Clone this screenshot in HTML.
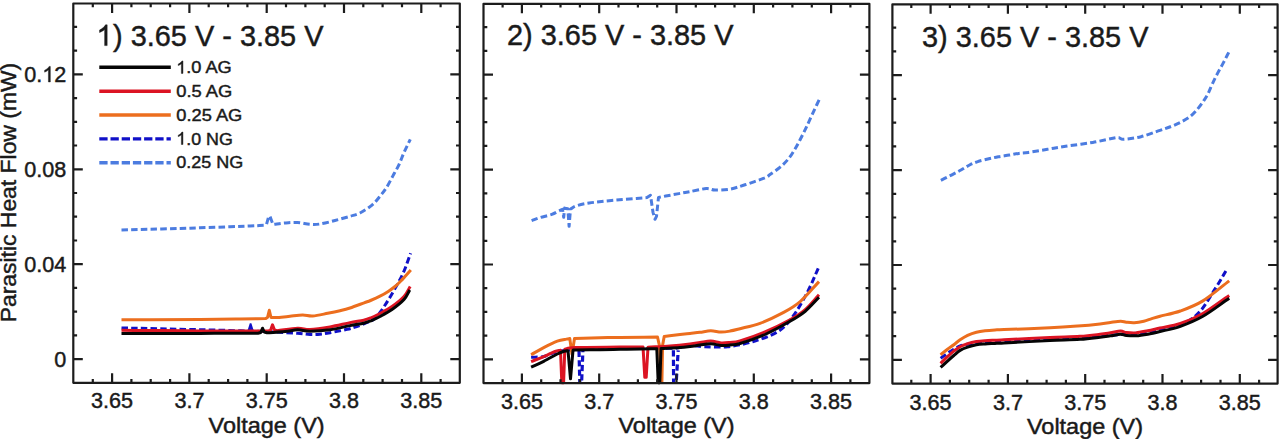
<!DOCTYPE html>
<html><head><meta charset="utf-8"><title>Parasitic Heat Flow</title>
<style>html,body{margin:0;padding:0;background:#fff;width:1280px;height:439px;overflow:hidden}svg{display:block}#w{width:1280px;height:439px}</style>
</head><body>
<div id="w"><svg width="1280" height="439" viewBox="0 0 1280 439">
<rect width="1280" height="439" fill="#fff"/>
<g transform="translate(0 0.00)">
<path d="M121.50 230.00 C131.00 229.77 140.25 229.55 150.00 229.30 C159.75 229.05 171.67 228.75 180.00 228.50 C188.33 228.25 191.67 228.08 200.00 227.80 C208.33 227.52 221.67 227.10 230.00 226.80 C238.33 226.50 244.33 226.25 250.00 226.00 C255.67 225.75 259.33 225.53 264.00 225.30 L266.50 224.50 L268.80 216.20 L270.00 216.50 L273.00 224.50 C277.00 224.00 280.92 223.33 285.00 223.00 C289.08 222.67 293.33 222.28 297.50 222.50 C301.67 222.72 306.25 224.05 310.00 224.30 C313.75 224.55 315.83 224.63 320.00 224.00 C324.17 223.37 330.00 221.78 335.00 220.50 C340.00 219.22 345.83 217.55 350.00 216.30 C354.17 215.05 356.28 214.92 360.00 213.00 C363.72 211.08 368.88 207.70 372.30 204.80 C375.72 201.90 378.12 198.50 380.50 195.60 C382.88 192.70 384.55 190.65 386.60 187.40 C388.65 184.15 390.75 179.87 392.80 176.10 C394.85 172.33 397.03 168.73 398.90 164.80 C400.77 160.87 402.10 156.75 404.00 152.50 C405.90 148.25 408.20 143.70 410.30 139.30" fill="none" stroke="#4c7ce0" stroke-width="3.0" stroke-linejoin="round" stroke-dasharray="6.5 3.2"/>
<path d="M121.50 327.90 C134.33 328.20 146.92 328.50 160.00 328.80 C173.08 329.10 186.50 329.37 200.00 329.70 C213.50 330.03 231.67 330.53 241.00 330.80 C250.33 331.07 251.17 331.13 256.00 331.30 C260.83 331.47 263.07 331.47 270.00 331.80 C276.93 332.13 290.93 332.85 297.60 333.30 C304.27 333.75 306.27 334.35 310.00 334.50 C313.73 334.65 316.67 334.50 320.00 334.20 C323.33 333.90 325.48 333.52 330.00 332.70 C334.52 331.88 342.63 330.32 347.10 329.30 C351.57 328.28 353.47 327.73 356.80 326.60 C360.13 325.47 364.23 323.77 367.10 322.50 C369.97 321.23 371.85 320.67 374.00 319.00 C376.15 317.33 378.15 314.83 380.00 312.50 C381.85 310.17 383.33 307.72 385.10 305.00 C386.87 302.28 388.72 299.37 390.60 296.20 C392.48 293.03 394.58 289.27 396.40 286.00 C398.22 282.73 399.97 279.73 401.50 276.60 C403.03 273.47 404.08 271.08 405.60 267.20 C407.12 263.32 408.93 257.93 410.60 253.30" fill="none" stroke="#1010c8" stroke-width="3.0" stroke-linejoin="round" stroke-dasharray="6.5 3.2"/>
<path d="M247.2 331.5 L249.8 323.2 L251.4 323.2 L254.0 331.5 Z" fill="#1010c8"/>
<path d="M121.50 319.80 C147.67 319.67 180.25 319.53 200.00 319.40 C219.75 319.27 229.08 319.13 240.00 319.00 C250.92 318.87 257.00 318.73 265.50 318.60 L267.50 317.50 L269.30 310.30 L271.00 317.50 L277.60 317.60 C281.73 317.13 285.82 316.63 290.00 316.20 C294.18 315.77 298.92 315.03 302.70 315.00 C306.48 314.97 308.53 316.28 312.70 316.00 C316.87 315.72 323.15 314.18 327.70 313.30 C332.25 312.42 336.28 311.58 340.00 310.70 C343.72 309.82 345.97 309.32 350.00 308.00 C354.03 306.68 360.78 304.05 364.20 302.80 C367.62 301.55 367.87 301.60 370.50 300.50 C373.13 299.40 377.05 297.72 380.00 296.20 C382.95 294.68 385.70 293.02 388.20 291.40 C390.70 289.78 392.90 288.23 395.00 286.50 C397.10 284.77 399.13 282.67 400.80 281.00 C402.47 279.33 403.33 278.33 405.00 276.50 C406.67 274.67 408.87 272.17 410.80 270.00" fill="none" stroke="#ec6e1e" stroke-width="3.0" stroke-linejoin="round"/>
<path d="M121.50 330.30 C134.33 330.40 146.92 330.50 160.00 330.60 C173.08 330.70 186.67 330.83 200.00 330.90 C213.33 330.97 228.67 330.98 240.00 331.00 C251.33 331.02 258.67 331.00 268.00 331.00 L270.50 330.50 L272.50 324.80 L274.50 330.00 L277.00 330.80 C283.87 329.93 292.10 328.42 297.60 328.20 C303.10 327.98 304.60 329.72 310.00 329.50 C315.40 329.28 323.33 328.05 330.00 326.90 C336.67 325.75 344.38 323.72 350.00 322.60 C355.62 321.48 360.20 321.00 363.70 320.20 C367.20 319.40 368.28 318.92 371.00 317.80 C373.72 316.68 376.50 315.38 380.00 313.50 C383.50 311.62 388.00 309.33 392.00 306.50 C396.00 303.67 400.97 299.83 404.00 296.50 C407.03 293.17 408.13 289.83 410.20 286.50" fill="none" stroke="#dc1423" stroke-width="3.0" stroke-linejoin="round"/>
<path d="M121.50 333.40 C134.33 333.40 146.92 333.40 160.00 333.40 C173.08 333.40 186.67 333.42 200.00 333.40 C213.33 333.38 230.33 333.33 240.00 333.30 C249.67 333.27 252.00 333.23 258.00 333.20 L260.80 332.50 L262.50 328.20 L264.20 332.00 L267.00 332.80 C273.00 332.40 279.90 332.10 285.00 331.60 C290.10 331.10 293.43 329.87 297.60 329.80 C301.77 329.73 304.60 331.20 310.00 331.20 C315.40 331.20 323.33 330.73 330.00 329.80 C336.67 328.87 344.38 326.70 350.00 325.60 C355.62 324.50 360.20 324.00 363.70 323.20 C367.20 322.40 368.28 321.92 371.00 320.80 C373.72 319.68 376.50 318.38 380.00 316.50 C383.50 314.62 388.00 312.33 392.00 309.50 C396.00 306.67 401.03 302.75 404.00 299.50 C406.97 296.25 407.87 293.17 409.80 290.00" fill="none" stroke="#050505" stroke-width="3.0" stroke-linejoin="round"/>
</g>
<g transform="translate(0 0.30)">
<path d="M531.60 220.30 C534.40 219.30 536.63 218.33 540.00 217.30 C543.37 216.27 548.77 215.15 551.80 214.10 C554.83 213.05 556.42 211.85 558.20 211.00 C559.98 210.15 561.07 209.67 562.50 209.00 L563.70 217.00 L564.60 207.80 L567.80 208.50 L569.10 226.00 L570.50 208.70 C572.47 207.63 573.28 206.50 576.40 205.50 C579.52 204.50 582.67 203.65 589.20 202.70 C595.73 201.75 605.97 200.70 615.60 199.80 C625.23 198.90 636.53 198.13 647.00 197.30 L650.50 195.00 L653.00 212.00 L655.00 219.00 L656.50 216.00 L658.50 197.10 C665.33 195.83 673.75 194.27 679.00 193.30 C684.25 192.33 685.45 192.13 690.00 191.30 C694.55 190.47 702.13 188.55 706.30 188.30 C710.47 188.05 711.05 189.72 715.00 189.80 C718.95 189.88 725.00 189.68 730.00 188.80 C735.00 187.92 739.17 186.38 745.00 184.50 C750.83 182.62 760.83 179.22 765.00 177.50 C769.17 175.78 767.47 175.98 770.00 174.20 C772.53 172.42 777.13 169.40 780.20 166.80 C783.27 164.20 786.00 161.50 788.40 158.60 C790.80 155.70 792.72 152.47 794.60 149.40 C796.48 146.33 797.82 143.78 799.70 140.20 C801.58 136.62 803.85 132.17 805.90 127.90 C807.95 123.63 809.77 119.38 812.00 114.60 C814.23 109.82 816.87 104.33 819.30 99.20" fill="none" stroke="#4c7ce0" stroke-width="3.0" stroke-linejoin="round" stroke-dasharray="6.5 3.2"/>
<path d="M531.10 357.00 C535.00 356.80 539.65 356.93 542.80 356.40 C545.95 355.87 547.58 354.60 550.00 353.80 C552.42 353.00 554.97 352.18 557.30 351.60 C559.63 351.02 560.58 350.73 564.00 350.30 C567.42 349.87 574.47 349.27 577.80 349.00 C581.13 348.73 576.97 348.82 584.00 348.70 C591.03 348.58 605.70 348.43 620.00 348.30 C634.30 348.17 660.13 348.03 669.80 347.90 C679.47 347.77 674.63 347.93 678.00 347.50 C681.37 347.07 685.50 345.48 690.00 345.30 C694.50 345.12 698.73 346.22 705.00 346.40 C711.27 346.58 719.67 347.23 727.60 346.40 C735.53 345.57 744.25 343.90 752.60 341.40 C760.95 338.90 771.02 335.57 777.70 331.40 C784.38 327.23 787.70 323.08 792.70 316.40 C797.70 309.72 803.32 299.65 807.70 291.30 C812.08 282.95 815.23 274.63 819.00 266.30" fill="none" stroke="#1010c8" stroke-width="3.0" stroke-linejoin="round" stroke-dasharray="6.5 3.2"/>
<path d="M579.0 350.5 L579.8 382.5" stroke="#1010c8" stroke-width="3.2" stroke-dasharray="6.2 3.2" stroke-dashoffset="0.0" fill="none"/>
<path d="M582.9 350.5 L581.6 382.5" stroke="#1010c8" stroke-width="3.2" stroke-dasharray="6.2 3.2" stroke-dashoffset="4.7" fill="none"/>
<path d="M673.4 350.0 L673.6 382.3" stroke="#1010c8" stroke-width="3.2" stroke-dasharray="6.2 3.2" stroke-dashoffset="0.0" fill="none"/>
<path d="M678.2 350.0 L676.2 382.3" stroke="#1010c8" stroke-width="3.2" stroke-dasharray="6.2 3.2" stroke-dashoffset="4.7" fill="none"/>
<path d="M531.10 354.40 C535.30 352.03 539.33 349.55 543.70 347.30 C548.07 345.05 553.52 342.32 557.30 340.90 C561.08 339.48 564.32 339.23 566.40 338.80 C568.48 338.37 568.67 338.47 569.80 338.30 L572.00 354.00 L574.50 338.10 C583.00 337.90 592.42 337.67 600.00 337.50 C607.58 337.33 610.42 337.23 620.00 337.10 C629.58 336.97 645.00 336.83 657.50 336.70 L659.60 346.00 L660.60 382.00 L661.90 382.00 L662.60 345.00 L664.20 336.10 C669.47 335.47 675.70 334.70 680.00 334.20 C684.30 333.70 686.67 333.47 690.00 333.10 C693.33 332.73 696.53 332.43 700.00 332.00 C703.47 331.57 707.30 330.53 710.80 330.50 C714.30 330.47 717.80 331.75 721.00 331.80 C724.20 331.85 726.83 331.37 730.00 330.80 C733.17 330.23 735.00 329.70 740.00 328.40 C745.00 327.10 752.88 325.63 760.00 323.00 C767.12 320.37 776.00 316.22 782.70 312.60 C789.40 308.98 794.15 306.52 800.20 301.30 C806.25 296.08 812.73 287.97 819.00 281.30" fill="none" stroke="#ec6e1e" stroke-width="3.0" stroke-linejoin="round"/>
<path d="M531.10 361.30 C535.30 359.67 539.72 358.08 543.70 356.40 C547.68 354.72 552.20 352.28 555.00 351.20 C557.80 350.12 558.67 350.33 560.50 349.90 L561.80 382.50 L563.60 382.50 L564.80 348.90 C568.20 348.33 565.80 347.55 575.00 347.20 C584.20 346.85 608.67 346.90 620.00 346.80 C631.33 346.70 635.33 346.67 643.00 346.60 L644.80 377.00 L646.20 377.00 L648.00 347.00 C655.33 346.53 663.00 346.17 670.00 345.60 C677.00 345.03 685.00 344.17 690.00 343.60 C695.00 343.03 696.53 342.67 700.00 342.20 C703.47 341.73 707.30 340.73 710.80 340.80 C714.30 340.87 717.80 342.38 721.00 342.60 C724.20 342.82 726.83 342.43 730.00 342.10 C733.17 341.77 734.17 342.35 740.00 340.60 C745.83 338.85 756.67 335.12 765.00 331.60 C773.33 328.08 783.30 323.22 790.00 319.50 C796.70 315.78 800.37 313.47 805.20 309.30 C810.03 305.13 814.40 299.43 819.00 294.50" fill="none" stroke="#dc1423" stroke-width="3.0" stroke-linejoin="round"/>
<path d="M531.10 366.80 C535.30 364.87 539.33 363.18 543.70 361.00 C548.07 358.82 553.92 355.37 557.30 353.70 C560.68 352.03 562.22 351.55 564.00 351.00 C565.78 350.45 566.67 350.60 568.00 350.40 L570.50 378.50 L573.00 350.00 C574.00 349.87 571.50 349.70 576.00 349.60 C580.50 349.50 592.67 349.50 600.00 349.40 C607.33 349.30 613.33 349.12 620.00 349.00 C626.67 348.88 633.87 348.78 640.00 348.70 C646.13 348.62 651.20 348.57 656.80 348.50 L658.20 382.50 L659.80 382.50 L661.00 348.30 C667.33 347.97 675.17 347.65 680.00 347.30 C684.83 346.95 686.67 346.62 690.00 346.20 C693.33 345.78 696.53 345.27 700.00 344.80 C703.47 344.33 707.30 343.33 710.80 343.40 C714.30 343.47 717.80 344.98 721.00 345.20 C724.20 345.42 726.83 345.03 730.00 344.70 C733.17 344.37 734.17 344.95 740.00 343.20 C745.83 341.45 756.67 337.90 765.00 334.20 C773.33 330.50 783.30 324.87 790.00 321.00 C796.70 317.13 800.37 315.00 805.20 311.00 C810.03 307.00 814.40 301.67 819.00 297.00" fill="none" stroke="#050505" stroke-width="3.0" stroke-linejoin="round"/>
</g>
<g transform="translate(0 0.80)">
<path d="M940.90 179.50 C944.57 177.67 948.48 175.75 951.90 174.00 C955.32 172.25 958.45 170.63 961.40 169.00 C964.35 167.37 966.87 165.57 969.60 164.20 C972.33 162.83 974.60 161.83 977.80 160.80 C981.00 159.77 985.38 158.80 988.80 158.00 C992.22 157.20 994.88 156.62 998.30 156.00 C1001.72 155.38 1005.88 154.87 1009.30 154.30 C1012.72 153.73 1015.62 153.05 1018.80 152.60 C1021.98 152.15 1023.62 152.28 1028.40 151.60 C1033.18 150.92 1041.30 149.52 1047.50 148.50 C1053.70 147.48 1058.05 146.65 1065.60 145.50 C1073.15 144.35 1084.40 143.05 1092.80 141.60 C1101.20 140.15 1111.47 137.48 1116.00 136.80 C1120.53 136.12 1118.70 137.22 1120.00 137.50 C1121.30 137.78 1120.30 138.77 1123.80 138.50 C1127.30 138.23 1134.97 137.38 1141.00 135.90 C1147.03 134.42 1154.95 131.32 1160.00 129.60 C1165.05 127.88 1167.72 127.03 1171.30 125.60 C1174.88 124.17 1178.27 122.72 1181.50 121.00 C1184.73 119.28 1187.97 117.50 1190.70 115.30 C1193.43 113.10 1195.68 110.43 1197.90 107.80 C1200.12 105.17 1202.28 102.05 1204.00 99.50 C1205.72 96.95 1206.83 95.17 1208.20 92.50 C1209.57 89.83 1210.67 86.78 1212.20 83.50 C1213.73 80.22 1215.55 76.37 1217.40 72.80 C1219.25 69.23 1221.37 65.73 1223.30 62.10 C1225.23 58.47 1227.10 54.70 1229.00 51.00" fill="none" stroke="#4c7ce0" stroke-width="3.0" stroke-linejoin="round" stroke-dasharray="6.5 3.2"/>
<path d="M940.60 357.50 C942.90 355.83 945.30 354.00 947.50 352.50 C949.70 351.00 951.70 349.75 953.80 348.50 C955.90 347.25 957.80 345.83 960.10 345.00 C962.40 344.17 964.88 343.93 967.60 343.50 C970.32 343.07 970.33 342.88 976.40 342.40 C982.47 341.92 991.73 341.28 1004.00 340.60 C1016.27 339.92 1034.00 339.22 1050.00 338.30 C1066.00 337.38 1085.00 336.12 1100.00 335.10 C1115.00 334.08 1129.53 333.25 1140.00 332.20 C1150.47 331.15 1155.30 330.50 1162.80 328.80 C1170.30 327.10 1178.73 325.10 1185.00 322.00 C1191.27 318.90 1195.33 315.93 1200.40 310.20 C1205.47 304.47 1210.88 294.72 1215.40 287.60 C1219.92 280.48 1223.47 274.20 1227.50 267.50" fill="none" stroke="#1010c8" stroke-width="3.0" stroke-linejoin="round" stroke-dasharray="6.5 3.2"/>
<path d="M940.60 354.00 C942.90 352.13 945.30 350.08 947.50 348.40 C949.70 346.72 951.70 345.47 953.80 343.90 C955.90 342.33 957.80 340.55 960.10 339.00 C962.40 337.45 964.88 335.87 967.60 334.60 C970.32 333.33 973.48 332.18 976.40 331.40 C979.32 330.62 982.00 330.28 985.10 329.90 C988.20 329.52 991.85 329.28 995.00 329.10 C998.15 328.92 994.83 329.15 1004.00 328.80 C1013.17 328.45 1037.73 327.60 1050.00 327.00 C1062.27 326.40 1069.27 325.85 1077.60 325.20 C1085.93 324.55 1094.53 323.70 1100.00 323.10 C1105.47 322.50 1106.95 322.05 1110.40 321.60 C1113.85 321.15 1118.05 320.43 1120.70 320.40 C1123.35 320.37 1124.03 321.15 1126.30 321.40 C1128.57 321.65 1131.38 322.07 1134.30 321.90 C1137.22 321.73 1140.88 321.08 1143.80 320.40 C1146.72 319.72 1149.10 318.63 1151.80 317.80 C1154.50 316.97 1155.23 316.67 1160.00 315.40 C1164.77 314.13 1173.25 312.75 1180.40 310.20 C1187.55 307.65 1194.77 305.12 1202.90 300.10 C1211.03 295.08 1220.43 286.77 1229.20 280.10" fill="none" stroke="#ec6e1e" stroke-width="3.0" stroke-linejoin="round"/>
<path d="M940.60 362.60 C942.90 360.33 945.30 357.85 947.50 355.80 C949.70 353.75 951.70 351.95 953.80 350.30 C955.90 348.65 957.80 347.15 960.10 345.90 C962.40 344.65 964.88 343.65 967.60 342.80 C970.32 341.95 973.48 341.28 976.40 340.80 C979.32 340.32 982.00 340.13 985.10 339.90 C988.20 339.67 991.85 339.55 995.00 339.40 C998.15 339.25 994.83 339.45 1004.00 339.00 C1013.17 338.55 1037.33 337.28 1050.00 336.70 C1062.67 336.12 1071.67 336.03 1080.00 335.50 C1088.33 334.97 1094.93 334.08 1100.00 333.50 C1105.07 332.92 1106.95 332.53 1110.40 332.00 C1113.85 331.47 1118.05 330.35 1120.70 330.30 C1123.35 330.25 1123.77 331.40 1126.30 331.70 C1128.83 332.00 1132.32 332.40 1135.90 332.10 C1139.48 331.80 1143.78 330.72 1147.80 329.90 C1151.82 329.08 1154.57 328.40 1160.00 327.20 C1165.43 326.00 1173.25 325.12 1180.40 322.70 C1187.55 320.28 1194.77 317.38 1202.90 312.70 C1211.03 308.02 1220.43 300.63 1229.20 294.60" fill="none" stroke="#dc1423" stroke-width="3.0" stroke-linejoin="round"/>
<path d="M940.60 366.60 C942.90 364.50 945.30 362.28 947.50 360.30 C949.70 358.32 951.70 356.48 953.80 354.70 C955.90 352.92 957.80 350.98 960.10 349.60 C962.40 348.22 964.88 347.33 967.60 346.40 C970.32 345.47 973.48 344.55 976.40 344.00 C979.32 343.45 982.00 343.33 985.10 343.10 C988.20 342.87 991.85 342.77 995.00 342.60 C998.15 342.43 994.83 342.57 1004.00 342.10 C1013.17 341.63 1037.33 340.40 1050.00 339.80 C1062.67 339.20 1071.67 339.07 1080.00 338.50 C1088.33 337.93 1094.93 336.98 1100.00 336.40 C1105.07 335.82 1106.95 335.48 1110.40 335.00 C1113.85 334.52 1118.05 333.57 1120.70 333.50 C1123.35 333.43 1123.77 334.35 1126.30 334.60 C1128.83 334.85 1132.32 335.20 1135.90 335.00 C1139.48 334.80 1143.78 334.12 1147.80 333.40 C1151.82 332.68 1154.57 332.02 1160.00 330.70 C1165.43 329.38 1173.25 328.03 1180.40 325.50 C1187.55 322.97 1194.77 320.17 1202.90 315.50 C1211.03 310.83 1220.43 303.50 1229.20 297.50" fill="none" stroke="#050505" stroke-width="3.0" stroke-linejoin="round"/>
</g>
<g transform="translate(0 0.00)">
<path d="M92.8 382.8V379.0M92.8 3.5V7.3M112.1 382.8V373.3M112.1 3.5V13.0M131.4 382.8V379.0M131.4 3.5V7.3M150.7 382.8V379.0M150.7 3.5V7.3M170.1 382.8V379.0M170.1 3.5V7.3M189.4 382.8V373.3M189.4 3.5V13.0M208.7 382.8V379.0M208.7 3.5V7.3M228.1 382.8V379.0M228.1 3.5V7.3M247.4 382.8V379.0M247.4 3.5V7.3M266.7 382.8V373.3M266.7 3.5V13.0M286.0 382.8V379.0M286.0 3.5V7.3M305.4 382.8V379.0M305.4 3.5V7.3M324.7 382.8V379.0M324.7 3.5V7.3M344.0 382.8V373.3M344.0 3.5V13.0M363.3 382.8V379.0M363.3 3.5V7.3M382.6 382.8V379.0M382.6 3.5V7.3M402.0 382.8V379.0M402.0 3.5V7.3M421.3 382.8V373.3M421.3 3.5V13.0M440.6 382.8V379.0M440.6 3.5V7.3M73.3 359.1H82.8M459.8 359.1H450.3M73.3 335.4H77.1M459.8 335.4H456.0M73.3 311.6H77.1M459.8 311.6H456.0M73.3 287.9H77.1M459.8 287.9H456.0M73.3 264.2H82.8M459.8 264.2H450.3M73.3 240.5H77.1M459.8 240.5H456.0M73.3 216.7H77.1M459.8 216.7H456.0M73.3 193.0H77.1M459.8 193.0H456.0M73.3 169.3H82.8M459.8 169.3H450.3M73.3 145.5H77.1M459.8 145.5H456.0M73.3 121.8H77.1M459.8 121.8H456.0M73.3 98.1H77.1M459.8 98.1H456.0M73.3 74.3H82.8M459.8 74.3H450.3M73.3 50.6H77.1M459.8 50.6H456.0M73.3 26.9H77.1M459.8 26.9H456.0" stroke="#1c1c1c" stroke-width="2.2" fill="none"/>
<rect x="73.3" y="3.5" width="386.5" height="379.3" fill="none" stroke="#1c1c1c" stroke-width="2.2" stroke-linejoin="round"/>
</g>
<g transform="translate(0 0.30)">
<path d="M502.6 382.8V379.0M502.6 3.5V7.3M521.9 382.8V373.3M521.9 3.5V13.0M541.2 382.8V379.0M541.2 3.5V7.3M560.5 382.8V379.0M560.5 3.5V7.3M579.9 382.8V379.0M579.9 3.5V7.3M599.2 382.8V373.3M599.2 3.5V13.0M618.5 382.8V379.0M618.5 3.5V7.3M637.9 382.8V379.0M637.9 3.5V7.3M657.2 382.8V379.0M657.2 3.5V7.3M676.5 382.8V373.3M676.5 3.5V13.0M695.8 382.8V379.0M695.8 3.5V7.3M715.1 382.8V379.0M715.1 3.5V7.3M734.5 382.8V379.0M734.5 3.5V7.3M753.8 382.8V373.3M753.8 3.5V13.0M773.1 382.8V379.0M773.1 3.5V7.3M792.4 382.8V379.0M792.4 3.5V7.3M811.8 382.8V379.0M811.8 3.5V7.3M831.1 382.8V373.3M831.1 3.5V13.0M850.4 382.8V379.0M850.4 3.5V7.3M483.5 359.1H493.0M869.4 359.1H859.9M483.5 335.4H487.3M869.4 335.4H865.6M483.5 311.6H487.3M869.4 311.6H865.6M483.5 287.9H487.3M869.4 287.9H865.6M483.5 264.2H493.0M869.4 264.2H859.9M483.5 240.5H487.3M869.4 240.5H865.6M483.5 216.7H487.3M869.4 216.7H865.6M483.5 193.0H487.3M869.4 193.0H865.6M483.5 169.3H493.0M869.4 169.3H859.9M483.5 145.5H487.3M869.4 145.5H865.6M483.5 121.8H487.3M869.4 121.8H865.6M483.5 98.1H487.3M869.4 98.1H865.6M483.5 74.3H493.0M869.4 74.3H859.9M483.5 50.6H487.3M869.4 50.6H865.6M483.5 26.9H487.3M869.4 26.9H865.6" stroke="#1c1c1c" stroke-width="2.2" fill="none"/>
<rect x="483.5" y="3.5" width="385.9" height="379.3" fill="none" stroke="#1c1c1c" stroke-width="2.2" stroke-linejoin="round"/>
</g>
<g transform="translate(0 0.80)">
<path d="M911.3 382.8V379.0M911.3 3.5V7.3M930.6 382.8V373.3M930.6 3.5V13.0M949.9 382.8V379.0M949.9 3.5V7.3M969.2 382.8V379.0M969.2 3.5V7.3M988.6 382.8V379.0M988.6 3.5V7.3M1007.9 382.8V373.3M1007.9 3.5V13.0M1027.2 382.8V379.0M1027.2 3.5V7.3M1046.6 382.8V379.0M1046.6 3.5V7.3M1065.9 382.8V379.0M1065.9 3.5V7.3M1085.2 382.8V373.3M1085.2 3.5V13.0M1104.5 382.8V379.0M1104.5 3.5V7.3M1123.8 382.8V379.0M1123.8 3.5V7.3M1143.2 382.8V379.0M1143.2 3.5V7.3M1162.5 382.8V373.3M1162.5 3.5V13.0M1181.8 382.8V379.0M1181.8 3.5V7.3M1201.1 382.8V379.0M1201.1 3.5V7.3M1220.5 382.8V379.0M1220.5 3.5V7.3M1239.8 382.8V373.3M1239.8 3.5V13.0M1259.1 382.8V379.0M1259.1 3.5V7.3M892.4 359.1H901.9M1277.6 359.1H1268.1M892.4 335.4H896.2M1277.6 335.4H1273.8M892.4 311.6H896.2M1277.6 311.6H1273.8M892.4 287.9H896.2M1277.6 287.9H1273.8M892.4 264.2H901.9M1277.6 264.2H1268.1M892.4 240.5H896.2M1277.6 240.5H1273.8M892.4 216.7H896.2M1277.6 216.7H1273.8M892.4 193.0H896.2M1277.6 193.0H1273.8M892.4 169.3H901.9M1277.6 169.3H1268.1M892.4 145.5H896.2M1277.6 145.5H1273.8M892.4 121.8H896.2M1277.6 121.8H1273.8M892.4 98.1H896.2M1277.6 98.1H1273.8M892.4 74.3H901.9M1277.6 74.3H1268.1M892.4 50.6H896.2M1277.6 50.6H1273.8M892.4 26.9H896.2M1277.6 26.9H1273.8" stroke="#1c1c1c" stroke-width="2.2" fill="none"/>
<rect x="892.4" y="3.5" width="385.2" height="379.3" fill="none" stroke="#1c1c1c" stroke-width="2.2" stroke-linejoin="round"/>
</g>
<g font-family="Liberation Sans, sans-serif" fill="#1a1a1a" stroke="#1a1a1a" stroke-width="0.45">
<text x="112.1" y="408.00" font-size="21.6" text-anchor="middle">3.65</text>
<text x="189.4" y="408.00" font-size="21.6" text-anchor="middle">3.7</text>
<text x="266.7" y="408.00" font-size="21.6" text-anchor="middle">3.75</text>
<text x="344.0" y="408.00" font-size="21.6" text-anchor="middle">3.8</text>
<text x="421.3" y="408.00" font-size="21.6" text-anchor="middle">3.85</text>
<text x="266.6" y="432.60" font-size="21.5" text-anchor="middle" textLength="116" lengthAdjust="spacingAndGlyphs">Voltage (V)</text>
<text x="521.9" y="408.60" font-size="21.6" text-anchor="middle">3.65</text>
<text x="599.2" y="408.60" font-size="21.6" text-anchor="middle">3.7</text>
<text x="676.5" y="408.60" font-size="21.6" text-anchor="middle">3.75</text>
<text x="753.8" y="408.60" font-size="21.6" text-anchor="middle">3.8</text>
<text x="831.1" y="408.60" font-size="21.6" text-anchor="middle">3.85</text>
<text x="676.5" y="433.20" font-size="21.5" text-anchor="middle" textLength="116" lengthAdjust="spacingAndGlyphs">Voltage (V)</text>
<text x="930.6" y="409.50" font-size="21.6" text-anchor="middle">3.65</text>
<text x="1007.9" y="409.50" font-size="21.6" text-anchor="middle">3.7</text>
<text x="1085.2" y="409.50" font-size="21.6" text-anchor="middle">3.75</text>
<text x="1162.5" y="409.50" font-size="21.6" text-anchor="middle">3.8</text>
<text x="1239.8" y="409.50" font-size="21.6" text-anchor="middle">3.85</text>
<text x="1085.0" y="434.10" font-size="21.5" text-anchor="middle" textLength="116" lengthAdjust="spacingAndGlyphs">Voltage (V)</text>
<text x="66.3" y="366.7" font-size="21.6" text-anchor="end">0</text>
<text x="66.3" y="271.8" font-size="21.6" text-anchor="end">0.04</text>
<text x="66.3" y="176.9" font-size="21.6" text-anchor="end">0.08</text>
<text x="24.26" y="81.9" font-size="21.6">0.</text>
<path d="M763 0H583V1147Q518 1085 412.5 1023Q307 961 223 930V1104Q374 1175 487 1276Q600 1377 647 1472H763Z" transform="translate(42.27 81.94) scale(0.01055 -0.01055)" vector-effect="non-scaling-stroke"/>
<text x="54.29" y="81.9" font-size="21.6">2</text>
<text transform="translate(16 322.3) rotate(-90)" font-size="21.8" textLength="259.5" lengthAdjust="spacingAndGlyphs">Parasitic Heat Flow (mW)</text>
<path d="M763 0H583V1147Q518 1085 412.5 1023Q307 961 223 930V1104Q374 1175 487 1276Q600 1377 647 1472H763Z" transform="translate(96.40 45.60) scale(0.01411 -0.01411)" vector-effect="non-scaling-stroke"/>
<text x="113.07" y="45.6" font-size="28.9">) 3.65 V - 3.85 V</text>
<text x="507" y="45.3" font-size="28.9">2) 3.65 V - 3.85 V</text>
<text x="922" y="46.9" font-size="28.9">3) 3.65 V - 3.85 V</text>
<path d="M763 0H583V1147Q518 1085 412.5 1023Q307 961 223 930V1104Q374 1175 487 1276Q600 1377 647 1472H763Z" transform="translate(176.30 73.40) scale(0.00871 -0.00845)" vector-effect="non-scaling-stroke"/>
<text x="186.22" y="73.4" font-size="17.3" textLength="45.58" lengthAdjust="spacingAndGlyphs">.0 AG</text>
<text x="176.3" y="97.1" font-size="17.3" textLength="56.0" lengthAdjust="spacingAndGlyphs">0.5 AG</text>
<text x="176.3" y="120.8" font-size="17.3" textLength="66.0" lengthAdjust="spacingAndGlyphs">0.25 AG</text>
<path d="M763 0H583V1147Q518 1085 412.5 1023Q307 961 223 930V1104Q374 1175 487 1276Q600 1377 647 1472H763Z" transform="translate(176.30 144.50) scale(0.00871 -0.00845)" vector-effect="non-scaling-stroke"/>
<text x="186.22" y="144.5" font-size="17.3" textLength="46.58" lengthAdjust="spacingAndGlyphs">.0 NG</text>
<text x="176.3" y="168.2" font-size="17.3" textLength="67.0" lengthAdjust="spacingAndGlyphs">0.25 NG</text>
</g>
<path d="M99.3 67.3H170.8" stroke="#050505" stroke-width="3.4"/>
<path d="M99.3 91.2H170.8" stroke="#dc1423" stroke-width="3.4"/>
<path d="M99.3 115.0H170.8" stroke="#ec6e1e" stroke-width="3.4"/>
<path d="M99.3 138.9H170.8" stroke="#1010c8" stroke-width="3.4" stroke-dasharray="8.3 2.9"/>
<path d="M99.3 162.7H170.8" stroke="#4c7ce0" stroke-width="3.4" stroke-dasharray="8.3 2.9"/>
</svg></div>
</body></html>
